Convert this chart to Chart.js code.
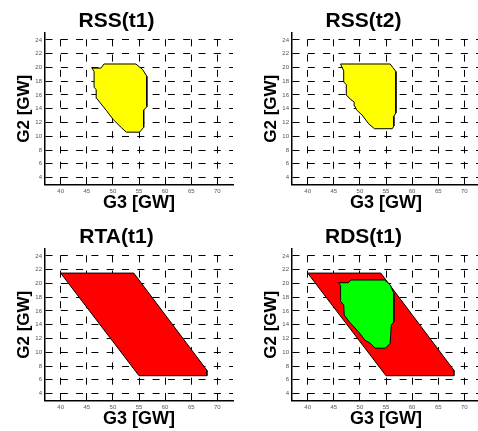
<!DOCTYPE html>
<html><head><meta charset="utf-8">
<script src="https://cdn.jsdelivr.net/npm/chart.js@4"></script>
<style>
html,body{margin:0;padding:0;background:#fff;overflow:hidden;width:478px;height:431px;position:relative}
canvas{position:absolute}
</style></head><body>
<canvas id="c1" width="239" height="216" style="left:0;top:0"></canvas>
<canvas id="c2" width="239" height="216" style="left:247px;top:0"></canvas>
<canvas id="c3" width="239" height="216" style="left:0;top:216px"></canvas>
<canvas id="c4" width="239" height="216" style="left:247px;top:216px"></canvas>
<script>
const xTicks = [40, 45, 50, 55, 60, 65, 70];
const yTicks = [4, 6, 8, 10, 12, 14, 16, 18, 20, 22, 24];
const titles = ['RSS(t1)', 'RSS(t2)', 'RTA(t1)', 'RDS(t1)'];
const xTitle = 'G3 [GW]';
const yTitle = 'G2 [GW]';

// RSS(t1) region (yellow)
const rss1G3 = [46.0, 47.7, 48.3, 54.4, 55.7, 56.5, 56.5, 55.9, 55.9, 55.1, 52.6, 51.7, 50.1, 48.8, 46.9, 46.8, 46.4, 46.4];
const rss1G2 = [19.9, 19.9, 20.5, 20.5, 19.7, 18.7, 14.3, 13.8, 11.3, 10.6, 10.6, 11.2, 12.4, 13.7, 15.5, 16.8, 17.1, 19.4];
// RSS(t2) region (yellow)
const rss2G3 = [46.3, 55.8, 56.3, 56.9, 56.9, 56.5, 56.5, 56.2, 52.8, 51.7, 50.4, 49.4, 49.0, 48.9, 48.3, 47.4, 47.4, 46.9, 46.9];
const rss2G2 = [20.5, 20.5, 20.0, 19.4, 13.4, 12.9, 11.5, 11.1, 11.1, 11.8, 13.1, 13.8, 14.4, 15.0, 15.3, 16.0, 17.5, 17.9, 19.5];
// RTA(t1) region (red)
const rtaG3 = [40.0, 54.0, 67.6, 68.0, 68.0, 55.0];
const rtaG2 = [21.5, 21.5, 7.8, 7.4, 6.6, 6.6];
// RDS(t1) region (green, inside RTA)
const rdsG3 = [45.9, 47.8, 48.3, 54.7, 55.8, 56.5, 56.5, 56.0, 55.8, 54.9, 52.9, 52.0, 51.0, 49.7, 48.0, 47.0, 46.9, 46.3, 46.3];
const rdsG2 = [20.1, 20.1, 20.5, 20.5, 19.8, 18.6, 14.4, 13.95, 11.3, 10.6, 10.6, 11.3, 11.75, 13.0, 14.4, 15.4, 16.9, 17.4, 19.7];

const FONT = 'Liberation Sans, Arial, sans-serif';

function poly(xs, ys, color, order) {
  const d = xs.map((x, i) => ({x: x, y: ys[i]}));
  d.push({x: xs[0], y: ys[0]});
  return {data: d, showLine: true, fill: 'shape', backgroundColor: color, borderColor: '#000',
          borderWidth: 1, pointRadius: 0, tension: 0, order: order};
}

function make(id, title, datasets) {
  new Chart(document.getElementById(id), {
    type: 'scatter',
    data: {datasets: datasets},
    options: {
      responsive: false, animation: false, devicePixelRatio: 1,
      layout: {padding: {left: 0, top: 0, right: 6, bottom: 0}},
      plugins: {
        legend: {display: false}, tooltip: {enabled: false},
        title: {display: true, text: title, color: '#000',
                font: {family: FONT, size: 21, weight: 'bold'}, padding: {top: 8.4, bottom: -0.6}}
      },
      scales: {
        x: {
          type: 'linear', min: 37, max: 73,
          afterBuildTicks: s => { s.ticks = xTicks.map(v => ({value: v})); },
          afterFit: s => { s.height = 31.5; },
          grid: {color: '#000', lineWidth: 1, drawTicks: false},
          border: {display: true, color: '#000', width: 1.5, dash: [7, 8.3], dashOffset: 9},
          ticks: {font: {family: FONT, size: 6}, color: '#555', padding: 3, maxRotation: 0, autoSkip: false},
          title: {display: true, text: xTitle, color: '#000', font: {family: FONT, size: 18, weight: 'bold'},
                  padding: {top: 0, bottom: 1.7}}
        },
        y: {
          type: 'linear', min: 3, max: 25,
          afterBuildTicks: s => { s.ticks = yTicks.map(v => ({value: v})); },
          afterFit: s => { s.width = 45; },
          grid: {color: '#000', lineWidth: 1, drawTicks: false},
          border: {display: true, color: '#000', width: 1.5, dash: [7, 8.3], dashOffset: 0},
          ticks: {font: {family: FONT, size: 6}, color: '#555', padding: 3, autoSkip: false},
          title: {display: true, text: yTitle, color: '#000', font: {family: FONT, size: 17, weight: 'bold'},
                  padding: {top: 14, bottom: 0}}
        }
      }
    }
  });
}

make('c1', titles[0], [poly(rss1G3, rss1G2, '#ffff00', 1)]);
make('c2', titles[1], [poly(rss2G3, rss2G2, '#ffff00', 1)]);
make('c3', titles[2], [poly(rtaG3, rtaG2, '#ff0000', 1)]);
make('c4', titles[3], [poly(rdsG3, rdsG2, '#00ff00', 1), poly(rtaG3, rtaG2, '#ff0000', 2)]);
</script>
</body></html>
